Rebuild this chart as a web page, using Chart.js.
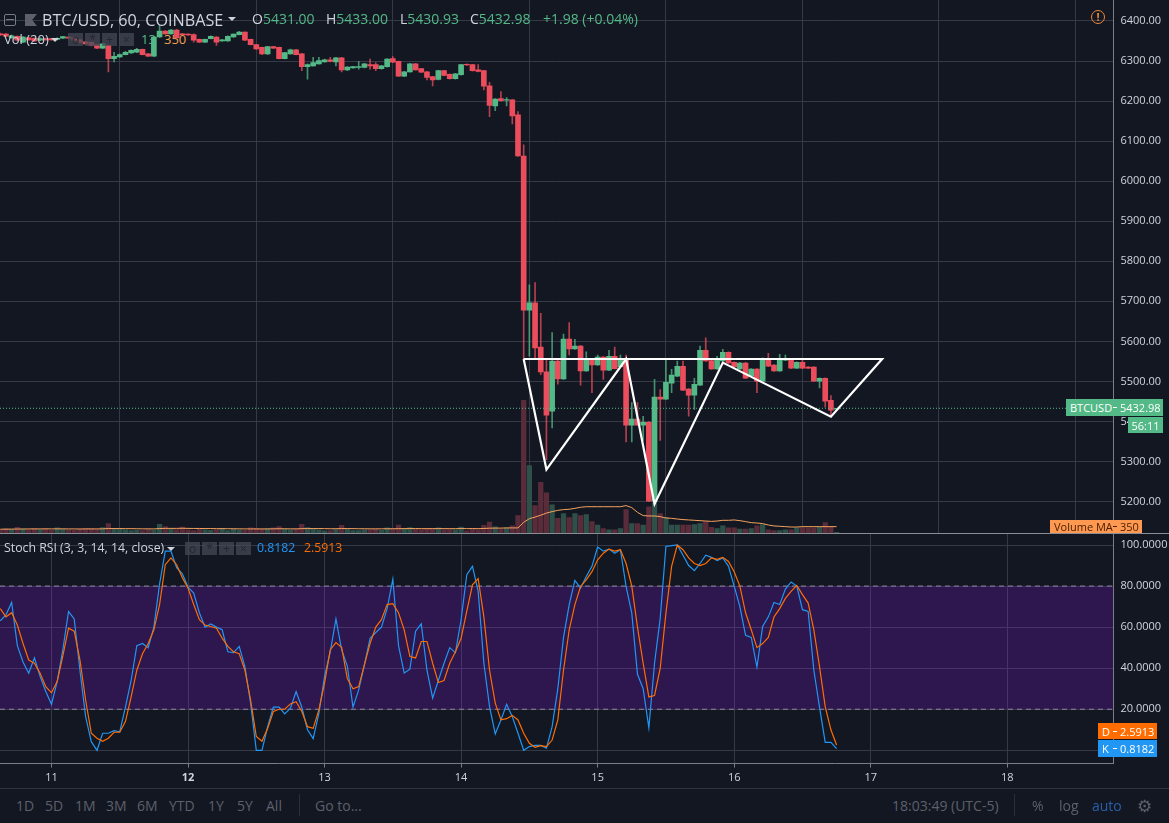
<!DOCTYPE html>
<html>
<head>
<meta charset="utf-8">
<title>BTC/USD, 60, COINBASE</title>
<script src="https://cdn.jsdelivr.net/npm/chart.js@4/dist/chart.umd.min.js"></script>
<style>
  html, body { margin: 0; padding: 0; background: #131722; }
  body { position: relative; width: 1169px; height: 823px; overflow: hidden; font-family: "Open Sans", sans-serif; color: #d1d4dc; }
  canvas { position: absolute; left: 0; }
  .t { position: absolute; white-space: nowrap; line-height: 1; }
  .up { color: #53b987; }
  .box { position: absolute; }
  .tag { position: absolute; white-space: nowrap; font-size: 11px; line-height: 1; color: #fff; display: flex; align-items: center; }
  .btn { position: absolute; width: 15px; height: 13px; background: rgba(70,74,86,.75); color: #23262f; font-size: 12px; line-height: 13px; text-align: center; }
  .bar { color: #5d606b; font-size: 14px; top: 799px; }
  .sep { position: absolute; background: #2a2e39; width: 1px; top: 794px; height: 22px; }
  .dash { position: absolute; left: 1113px; width: 4px; height: 1px; background: #fff; }
</style>
</head>
<body>
<!-- these two sit under the candles in the original -->
<div class="t up" style="left:141px;top:33px;font-size:13px">13</div>
<div class="t" style="left:164px;top:33px;font-size:13px;color:#f0a050">350</div>

<canvas id="price-chart" width="1169" height="533" style="top:0"></canvas>
<canvas id="stoch-chart" width="1169" height="254" style="top:534px"></canvas>

<!-- pane separators -->
<div class="box" style="left:0;top:533px;width:1169px;height:1px;background:#8a8d96"></div>
<div class="box" style="left:0;top:788px;width:1169px;height:1px;background:#2f333f"></div>

<!-- header -->
<div class="box" style="left:4px;top:14px;width:10px;height:10px;border:1px solid #787b86;border-radius:2px"></div>
<div class="box" style="left:6px;top:19px;width:8px;height:1px;background:#787b86"></div>
<div class="box" style="left:25px;top:14px;width:12px;height:12px;background:#5d606b;clip-path:polygon(0 0,100% 0,60% 50%,100% 100%,0 100%)"></div>
<div class="t" style="left:42px;top:12px;font-size:16.2px">BTC/USD, 60, COINBASE</div>
<div class="box" style="left:228px;top:17px;border:4px solid transparent;border-top:4px solid #d1d4dc"></div>
<div class="t" style="left:252px;top:12px;font-size:14px">O<span class="up">5431.00</span></div>
<div class="t" style="left:326px;top:12px;font-size:14px">H<span class="up">5433.00</span></div>
<div class="t" style="left:400px;top:12px;font-size:14px">L<span class="up">5430.93</span></div>
<div class="t" style="left:470px;top:12px;font-size:14px">C<span class="up">5432.98</span></div>
<div class="t up" style="left:543px;top:12px;font-size:14px">+1.98 (+0.04%)</div>
<div class="box" style="left:1091px;top:10px;width:12px;height:12px;border:1.5px solid #f0883a;border-radius:50%;color:#f0883a;font-size:11px;line-height:12px;text-align:center;font-weight:bold">!</div>

<!-- volume legend -->
<div class="t" style="left:4px;top:33px;font-size:13px">Vol (20)</div>
<div class="box" style="left:51px;top:38px;border:4px solid transparent;border-top:4px solid #d1d4dc"></div>
<div class="btn" style="left:68px;top:33px">o</div>
<div class="btn" style="left:85px;top:33px">*</div>
<div class="btn" style="left:102px;top:33px">+</div>
<div class="btn" style="left:119px;top:33px">×</div>

<!-- stoch legend -->
<div class="t" style="left:4px;top:542px;font-size:12.3px">Stoch RSI (3, 3, 14, 14, close)</div>
<div class="box" style="left:167px;top:547px;border:4px solid transparent;border-top:4px solid #d1d4dc"></div>
<div class="btn" style="left:185px;top:542px">o</div>
<div class="btn" style="left:202px;top:542px">*</div>
<div class="btn" style="left:219px;top:542px">+</div>
<div class="btn" style="left:236px;top:542px">×</div>
<div class="t" style="left:257px;top:542px;font-size:12.3px;color:#2196f3">0.8182</div>
<div class="t" style="left:304px;top:542px;font-size:12.3px;color:#ff6d00">2.5913</div>

<!-- axis tags -->
<div class="tag" style="left:1066px;top:399px;width:97px;height:17px;background:#53b987"><span style="margin-left:4px">BTCUSD</span><span style="position:absolute;left:54px">5432.98</span></div>
<div class="tag" style="left:1128px;top:417px;width:35px;height:16px;background:#53b987;justify-content:center">56:11</div>
<div class="tag" style="left:1050px;top:520px;width:92px;height:13px;background:#ff9850;color:#4a2000"><span style="margin-left:4px">Volume MA</span><span style="position:absolute;left:70px">350</span></div>
<div class="tag" style="left:1098px;top:723px;width:59px;height:16px;background:#ff6d00"><span style="margin-left:4px">D</span><span style="position:absolute;left:22px">2.5913</span></div>
<div class="tag" style="left:1098px;top:740px;width:59px;height:17px;background:#2196f3"><span style="margin-left:4px">K</span><span style="position:absolute;left:22px">0.8182</span></div>
<div class="dash" style="top:407px"></div>
<div class="dash" style="top:526px;background:#4a2000"></div>
<div class="dash" style="top:731px"></div>
<div class="dash" style="top:748px"></div>

<!-- bottom toolbar -->
<div class="t bar" style="left:16px">1D</div>
<div class="t bar" style="left:45px">5D</div>
<div class="t bar" style="left:75px">1M</div>
<div class="t bar" style="left:106px">3M</div>
<div class="t bar" style="left:137px">6M</div>
<div class="t bar" style="left:169px">YTD</div>
<div class="t bar" style="left:208px">1Y</div>
<div class="t bar" style="left:237px">5Y</div>
<div class="t bar" style="left:266px">All</div>
<div class="sep" style="left:299px"></div>
<div class="t bar" style="left:315px">Go to...</div>
<div class="t bar" style="left:892px">18:03:49 (UTC-5)</div>
<div class="sep" style="left:1014px"></div>
<div class="t bar" style="left:1032px">%</div>
<div class="t bar" style="left:1059px">log</div>
<div class="t bar" style="left:1092px;color:#2a5fa8">auto</div>
<div class="t bar" style="left:1137px;font-size:17px;top:797px">⚙</div>

<script>
// hourly bars, bar 0 = start of day 11, first one drawn is 9 hours before that
const firstBar = -9;

const opens = [
  6368,6367,6358,6362,6347,6358,6357,6352,6356,6356,
  6354,6357,6360,6358,6353,6348,6347,6341,6332,6339,
  6306,6310,6316,6320,6322,6329,6318,6312,6360,6375,
  6368,6377,6368,6367,6366,6354,6347,6356,6360,6350,
  6350,6360,6366,6372,6354,6341,6334,6318,6336,6334,
  6306,6318,6328,6318,6286,6288,6293,6298,6303,6298,
  6308,6278,6283,6284,6284,6291,6291,6281,6286,6306,
  6299,6262,6273,6293,6281,6273,6261,6254,6276,6267,
  6256,6266,6292,6291,6278,6276,6238,6188,6206,6202,
  6203,6166,6063,5678,5696,5586,5524,5426,5551,5506,
  5606,5581,5588,5526,5553,5541,5561,5528,5563,5537,
  5555,5391,5406,5391,5398,5201,5461,5456,5496,5513,
  5538,5481,5466,5491,5578,5552,5531,5551,5573,5548,
  5531,5546,5513,5531,5501,5555,5541,5526,5553,5553,
  5533,5548,5536,5536,5501,5508,5453,5431
];
const highs = [
  6370,6369,6365,6363,6361,6359,6358,6358,6357,6357,
  6358,6362,6361,6359,6354,6349,6348,6342,6344,6340,
  6322,6318,6324,6328,6332,6330,6319,6362,6389,6376,
  6379,6379,6369,6368,6368,6355,6355,6363,6361,6354,
  6363,6368,6374,6373,6355,6342,6335,6337,6337,6335,
  6322,6330,6329,6319,6293,6309,6309,6305,6309,6309,
  6309,6286,6287,6299,6294,6305,6296,6289,6306,6311,
  6300,6274,6294,6294,6282,6274,6262,6277,6277,6268,
  6269,6292,6293,6292,6291,6277,6247,6206,6224,6209,
  6204,6174,6091,5741,5747,5670,5555,5622,5553,5618,
  5647,5605,5590,5574,5555,5566,5562,5578,5586,5566,
  5566,5447,5447,5413,5400,5505,5480,5555,5530,5551,
  5551,5482,5508,5588,5609,5554,5563,5580,5574,5549,
  5548,5548,5532,5532,5559,5570,5542,5568,5566,5554,
  5549,5556,5537,5537,5509,5509,5465,5433
];
const lows = [
  6364,6361,6357,6350,6346,6352,6349,6351,6352,6352,
  6353,6356,6356,6351,6346,6342,6338,6331,6331,6273,
  6298,6309,6315,6319,6321,6315,6311,6311,6359,6367,
  6367,6357,6365,6364,6347,6346,6346,6355,6339,6349,
  6349,6359,6365,6351,6340,6329,6316,6316,6331,6305,
  6305,6317,6315,6276,6255,6287,6292,6297,6298,6288,
  6273,6276,6282,6280,6283,6280,6276,6280,6285,6296,
  6261,6261,6272,6277,6271,6253,6238,6253,6263,6255,
  6255,6265,6289,6275,6273,6228,6161,6176,6200,6188,
  6143,6062,5555,5563,5559,5517,5305,5384,5493,5505,
  5566,5580,5491,5525,5472,5540,5505,5527,5531,5536,
  5349,5349,5390,5353,5200,5194,5353,5455,5472,5512,
  5477,5413,5430,5490,5550,5530,5530,5550,5545,5535,
  5530,5507,5512,5472,5500,5537,5525,5525,5552,5532,
  5532,5532,5532,5500,5484,5436,5413,5430.93
];
const closes = [
  6365,6362,6363,6352,6360,6353,6350,6356,6353,6353,
  6357,6361,6357,6352,6347,6343,6339,6332,6343,6306,
  6312,6316,6322,6327,6329,6316,6312,6360,6375,6368,
  6377,6358,6366,6365,6352,6347,6354,6362,6347,6353,
  6362,6367,6372,6352,6341,6330,6318,6336,6332,6306,
  6321,6328,6316,6286,6291,6296,6301,6303,6299,6308,
  6278,6285,6286,6286,6293,6288,6281,6288,6305,6297,
  6262,6273,6293,6278,6272,6259,6253,6276,6264,6256,
  6268,6291,6290,6276,6274,6237,6189,6205,6201,6204,
  6163,6063,5678,5696,5584,5524,5416,5551,5506,5606,
  5581,5588,5526,5556,5541,5561,5528,5563,5532,5556,
  5391,5406,5391,5398,5201,5461,5456,5498,5516,5538,
  5478,5466,5493,5578,5551,5531,5556,5573,5546,5536,
  5546,5508,5531,5501,5558,5538,5526,5556,5556,5533,
  5548,5533,5533,5501,5508,5451,5428,5432.98
];
const volumes = [
  180,240,200,310,220,170,260,190,230,150,
  280,200,170,150,210,260,240,190,300,520,
  260,240,170,140,150,130,190,150,480,360,
  210,190,320,170,130,240,180,150,190,260,
  140,210,160,150,290,260,220,240,280,360,
  220,180,200,480,300,200,170,120,140,190,
  420,210,130,140,180,170,200,150,290,220,
  430,260,300,210,170,210,240,290,180,190,
  170,320,120,230,180,420,600,340,210,280,
  400,960,7320,3720,1510,2800,2210,1560,810,1070,
  850,1070,960,1010,630,440,240,170,170,240,
  1290,520,520,440,1440,1660,1070,850,440,440,
  440,440,460,520,630,310,240,400,290,280,
  220,220,240,400,460,170,130,130,170,180,
  280,280,280,280,330,570,370,40
];
const volumeMA = [
  210,210,215,220,220,225,225,225,230,225,
  230,230,225,225,220,225,225,225,230,245,
  245,245,240,240,235,230,230,225,245,255,
  255,255,260,255,250,250,245,245,240,240,
  235,235,230,225,225,225,225,225,230,235,
  235,230,230,240,245,245,245,240,235,235,
  245,245,240,235,235,230,230,230,235,235,
  240,240,245,245,240,240,240,245,240,240,
  240,245,240,245,240,250,265,270,270,280,
  280,280,590,790,880,980,1100,1180,1250,1290,
  1310,1360,1420,1450,1450,1450,1450,1450,1450,1450,
  1510,1400,1140,960,940,940,900,830,810,770,
  740,720,700,680,660,640,660,700,700,720,
  680,630,570,550,520,440,390,370,350,330,
  330,350,350,350,350,350,350,350
];
const stochK = [
  63,66,72,51,43,37.5,45,36,28.6,22.4,
  33.5,49,67.6,64,39,16.4,4.2,0,8.3,8.3,
  9.6,9,21,34,51,52,50,60,81,97,
  97,89,86,79.5,76.6,67,60,61.5,60,58.7,
  48,47.6,50.6,40.8,23,0,0,11.5,21,21,
  17.7,20.5,28.6,21,10,5.7,18,36,48,64,
  49,41,21,29.4,41.6,54.6,57.4,60,69,83.4,
  51,37.6,39.5,58,61.6,39,25.4,34,42.4,50,
  47.6,63.6,85.5,89.6,77.4,42.4,21.3,8,14.8,22.4,
  16.4,8.3,0,1.8,2.4,2.4,1,11.5,30,55,
  71,82.8,79,84.7,89.6,99,97,98,96,97.7,
  79.8,66.8,37,30,11,42.4,64.4,99.3,99.7,100,
  95,90,87.5,91,95,94,92.4,93.7,89.6,80,
  70,56,55,40.5,60.3,65,72,71,78.5,82,
  80,68.5,67.6,39,21,3.9,3.9,0.82
];
const stochD = [
  69,65,67,61,52,44,42.4,37.5,31,28,
  33.5,46,59.5,58,44,24.5,8.3,5.9,4.4,5.9,
  8.8,8.8,14,26,39,47,52,58.7,71,90.4,
  93.7,90.4,84,79,71,63.6,61,60.3,59.5,54.6,
  50.6,48,47,39,24.5,6.7,4.4,10.7,18.9,20,
  20,22.6,23.7,18.9,11.5,10.7,19.7,32.7,49,52.5,
  50.2,35,30,31,41.6,52,60,63.6,71,71.4,
  67,58.7,45.7,45,53,53,42.4,33,34,42.4,
  48,54.6,67.8,80.6,83.6,65,39,23,14.8,15.4,
  17,14.8,8.3,3.4,1.5,2.3,1.8,5,14.8,39,
  58.7,71,79.8,83,87,92.8,96,98,97,97.7,
  91,80,60,42.4,26,26.7,40,66.8,89.6,100,
  97.7,93.7,91,90,91,93.7,93,94,92,87,
  80,67,58.7,50,52,55,65,69,74,77.4,
  80.3,75.8,71.7,58.7,40.8,21.3,10,2.59
];

// the hand drawn white pattern
const patternBars = [83, 87, 101, 106, 118, 137, 146, 83];
const patternPrices = [5556, 5280, 5556, 5194, 5547, 5412, 5556, 5556];

const lastPrice = 5432.98;
const priceTicks = [5200,5300,5400,5500,5600,5700,5800,5900,6000,6100,6200,6300,6400];
const stochTicks = [0, 20, 40, 60, 80, 100];
const dayTicks = [11, 12, 13, 14, 15, 16, 17, 18];
const bandLow = 20;
const bandHigh = 80;

const xMin = 10.623, xMax = 18.778;
const gridColor = '#363a47', axisColor = '#7b7e88', textColor = '#d1d4dc';
const upColor = '#53b987', downColor = '#eb4d5c';
const upWick = 'rgba(83,185,135,0.75)', downWick = 'rgba(235,77,92,0.75)';
const fontFamily = '"Open Sans", sans-serif';

function barDay(bar) { return 11 + bar / 24; }
function day(i) { return barDay(firstBar + i); }
function setTicks(values) { return scale => { scale.ticks = values.map(v => ({ value: v })); }; }

const rightAxisWidth = 55.5;

function xScale(showLabels) {
  return {
    type: 'linear', min: xMin, max: xMax, offset: false,
    afterBuildTicks: setTicks(dayTicks),
    grid: { color: gridColor, tickColor: axisColor, tickLength: 4, drawTicks: showLabels },
    border: { display: showLabels, color: axisColor },
    ticks: {
      display: showLabels, autoSkip: false, maxRotation: 0, color: textColor, padding: 4,
      font: ctx => ({ family: fontFamily, size: 11, weight: ctx.tick && ctx.tick.value === 12 ? 'bold' : 'normal' }),
      callback: v => String(v)
    },
    afterFit: scale => {
      scale.height = showLabels ? 254 - 229.5 : 0;
      scale.paddingLeft = scale.paddingRight = 0;
    }
  };
}

function yScale(min, max, values, digits) {
  return {
    position: 'right', min: min, max: max,
    afterBuildTicks: setTicks(values),
    afterFit: scale => {
      scale.width = rightAxisWidth;
      // labels near the pane edge must not shrink the plot area
      scale.paddingTop = scale.paddingBottom = 0;
    },
    grid: { color: gridColor, drawTicks: false },
    border: { color: axisColor },
    ticks: {
      autoSkip: false, color: textColor, padding: 7,
      font: { family: fontFamily, size: 11 },
      callback: v => v.toFixed(digits)
    }
  };
}

const isUp = closes.map((c, i) => c >= opens[i]);

new Chart(document.getElementById('price-chart'), {
  type: 'line',
  data: {
    datasets: [
      {
        type: 'bar', yAxisID: 'yVol', order: 6, grouped: false, barThickness: 4.6,
        data: volumes.map((v, i) => ({ x: day(i), y: v })),
        backgroundColor: isUp.map(u => u ? '#2f5049' : '#5a2c3a')
      },
      {
        yAxisID: 'yVol', order: 5, borderColor: '#f5a25d', borderWidth: 1, pointRadius: 0, tension: 0,
        data: volumeMA.map((v, i) => ({ x: day(i), y: v }))
      },
      {
        type: 'bar', yAxisID: 'y', order: 4, grouped: false, barThickness: 1,
        data: lows.map((l, i) => ({ x: day(i), y: [l, highs[i]] })),
        backgroundColor: isUp.map(u => u ? upWick : downWick)
      },
      {
        type: 'bar', yAxisID: 'y', order: 3, grouped: false, barThickness: 5,
        data: opens.map((o, i) => ({ x: day(i), y: [o, closes[i]] })),
        backgroundColor: isUp.map(u => u ? upColor : downColor)
      },
      {
        yAxisID: 'y', order: 2, borderColor: upColor, borderWidth: 1, borderDash: [1, 2], pointRadius: 0,
        data: [{ x: xMin, y: lastPrice }, { x: xMax, y: lastPrice }]
      },
      {
        yAxisID: 'y', order: 1, borderColor: '#ffffff', borderWidth: 2.2, pointRadius: 0, tension: 0,
        borderJoinStyle: 'miter',
        data: patternBars.map((b, i) => ({ x: barDay(b), y: patternPrices[i] }))
      }
    ]
  },
  options: {
    responsive: false, animation: false,
    layout: { padding: 0 },
    plugins: { legend: { display: false }, tooltip: { enabled: false } },
    scales: {
      x: xScale(false),
      y: yScale(5121.6, 6452.4, priceTicks, 2),
      yVol: { display: false, min: 0, max: 29400 }
    }
  }
});

new Chart(document.getElementById('stoch-chart'), {
  type: 'line',
  data: {
    datasets: [
      {
        order: 4, borderColor: '#8f8a9c', borderWidth: 1, borderDash: [5, 4], pointRadius: 0,
        fill: { target: { value: bandLow } }, backgroundColor: 'rgba(153,21,255,0.2)',
        data: [{ x: xMin, y: bandHigh }, { x: xMax, y: bandHigh }]
      },
      {
        order: 3, borderColor: '#8f8a9c', borderWidth: 1, borderDash: [5, 4], pointRadius: 0,
        data: [{ x: xMin, y: bandLow }, { x: xMax, y: bandLow }]
      },
      {
        order: 2, borderColor: '#2196f3', borderWidth: 1.2, pointRadius: 0, tension: 0,
        data: stochK.map((v, i) => ({ x: day(i), y: v }))
      },
      {
        order: 1, borderColor: '#ff6d00', borderWidth: 1.2, pointRadius: 0, tension: 0,
        data: stochD.map((v, i) => ({ x: day(i), y: v }))
      }
    ]
  },
  options: {
    responsive: false, animation: false,
    layout: { padding: 0 },
    plugins: { legend: { display: false }, tooltip: { enabled: false } },
    scales: {
      x: xScale(true),
      y: yScale(-6.43, 105.36, stochTicks, 4)
    }
  }
});
</script>
</body>
</html>
